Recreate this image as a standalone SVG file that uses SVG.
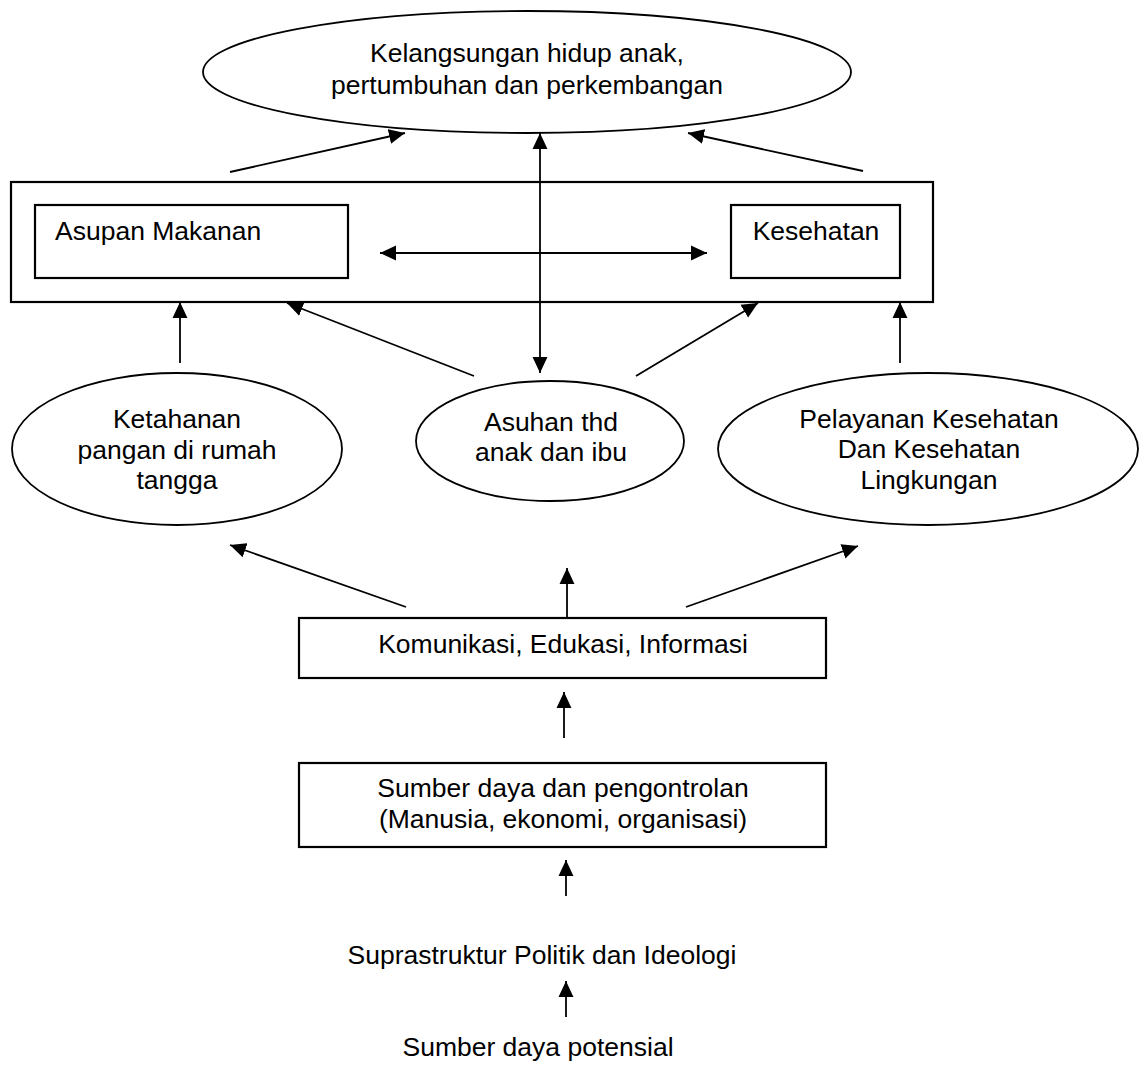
<svg xmlns="http://www.w3.org/2000/svg" width="1140" height="1068" viewBox="0 0 1140 1068">
  <style>
    .box { fill: #ffffff; stroke: #000000; stroke-width: 2.2; }
    .oval { fill: #ffffff; stroke: #000000; stroke-width: 1.8; }
    .label { font-family: "Liberation Sans", Arial, sans-serif; font-size: 26.5px; fill: #000000; }
    .mid { text-anchor: middle; }
    .edge { stroke: #000000; stroke-width: 1.8; fill: none; }
    .head { marker-end: url(#arrow); }
    .both { marker-start: url(#arrowStart); marker-end: url(#arrow); }
  </style>
  <defs>
    <marker id="arrow" markerUnits="userSpaceOnUse" markerWidth="16" markerHeight="16" refX="15" refY="7" orient="auto" viewBox="0 0 15 14">
      <path d="M0,0 L15,7 L0,14 Z" fill="#000000"/>
    </marker>
    <marker id="arrowStart" markerUnits="userSpaceOnUse" markerWidth="16" markerHeight="16" refX="0" refY="7" orient="auto" viewBox="0 0 15 14">
      <path d="M15,0 L0,7 L15,14 Z" fill="#000000"/>
    </marker>
  </defs>

  <rect width="1140" height="1068" fill="#ffffff"/>

  <!-- outcome -->
  <g id="kelangsungan">
    <ellipse class="oval" cx="527" cy="72" rx="324" ry="61"/>
    <text class="label mid" x="527" y="62">Kelangsungan hidup anak,</text>
    <text class="label mid" x="527" y="94">pertumbuhan dan perkembangan</text>
  </g>

  <!-- direct causes -->
  <g id="langsung">
    <rect class="box" x="11" y="182" width="922" height="120"/>
  </g>
  <g id="asupan">
    <rect class="box" x="35" y="205" width="313" height="73"/>
    <text class="label" x="55" y="240">Asupan Makanan</text>
  </g>
  <g id="kesehatan">
    <rect class="box" x="731" y="205" width="169" height="73"/>
    <text class="label mid" x="816" y="240">Kesehatan</text>
  </g>

  <!-- underlying causes -->
  <g id="ketahanan">
    <ellipse class="oval" cx="177" cy="449" rx="165" ry="76"/>
    <text class="label mid" x="177" y="428">Ketahanan</text>
    <text class="label mid" x="177" y="459">pangan di rumah</text>
    <text class="label mid" x="177" y="489">tangga</text>
  </g>
  <g id="asuhan">
    <ellipse class="oval" cx="550" cy="441" rx="134" ry="60"/>
    <text class="label mid" x="551" y="431">Asuhan thd</text>
    <text class="label mid" x="551" y="461">anak dan ibu</text>
  </g>
  <g id="pelayanan">
    <ellipse class="oval" cx="928" cy="449" rx="210" ry="76"/>
    <text class="label mid" x="929" y="428">Pelayanan Kesehatan</text>
    <text class="label mid" x="929" y="458">Dan Kesehatan</text>
    <text class="label mid" x="929" y="489">Lingkungan</text>
  </g>

  <!-- basic causes -->
  <g id="kei">
    <rect class="box" x="299" y="618" width="527" height="60"/>
    <text class="label mid" x="563" y="653">Komunikasi, Edukasi, Informasi</text>
  </g>
  <g id="sumberdaya">
    <rect class="box" x="299" y="763" width="527" height="84"/>
    <text class="label mid" x="563" y="797">Sumber daya dan pengontrolan</text>
    <text class="label mid" x="563" y="828">(Manusia, ekonomi, organisasi)</text>
  </g>
  <g id="suprastruktur">
    <text class="label mid" x="542" y="964">Suprastruktur Politik dan Ideologi</text>
  </g>
  <g id="potensial">
    <text class="label mid" x="538" y="1056">Sumber daya potensial</text>
  </g>

  <!-- connectors -->
  <g id="connectors">
    <line class="edge head" x1="230" y1="172" x2="405" y2="133"/>
    <line class="edge both" x1="540" y1="373" x2="540" y2="133"/>
    <line class="edge head" x1="863" y1="171" x2="688" y2="133"/>
    <line class="edge both" x1="380" y1="253" x2="707" y2="253"/>
    <line class="edge head" x1="180" y1="363" x2="180" y2="302"/>
    <line class="edge head" x1="474" y1="376" x2="287" y2="303"/>
    <line class="edge head" x1="636" y1="376" x2="758" y2="303"/>
    <line class="edge head" x1="900" y1="363" x2="900" y2="302"/>
    <line class="edge head" x1="406" y1="607" x2="230" y2="545"/>
    <line class="edge head" x1="567" y1="618" x2="567" y2="568"/>
    <line class="edge head" x1="686" y1="607" x2="858" y2="546"/>
    <line class="edge head" x1="564" y1="738" x2="564" y2="692"/>
    <line class="edge head" x1="566" y1="896" x2="566" y2="860"/>
    <line class="edge head" x1="566" y1="1017" x2="566" y2="981"/>
  </g>
</svg>
